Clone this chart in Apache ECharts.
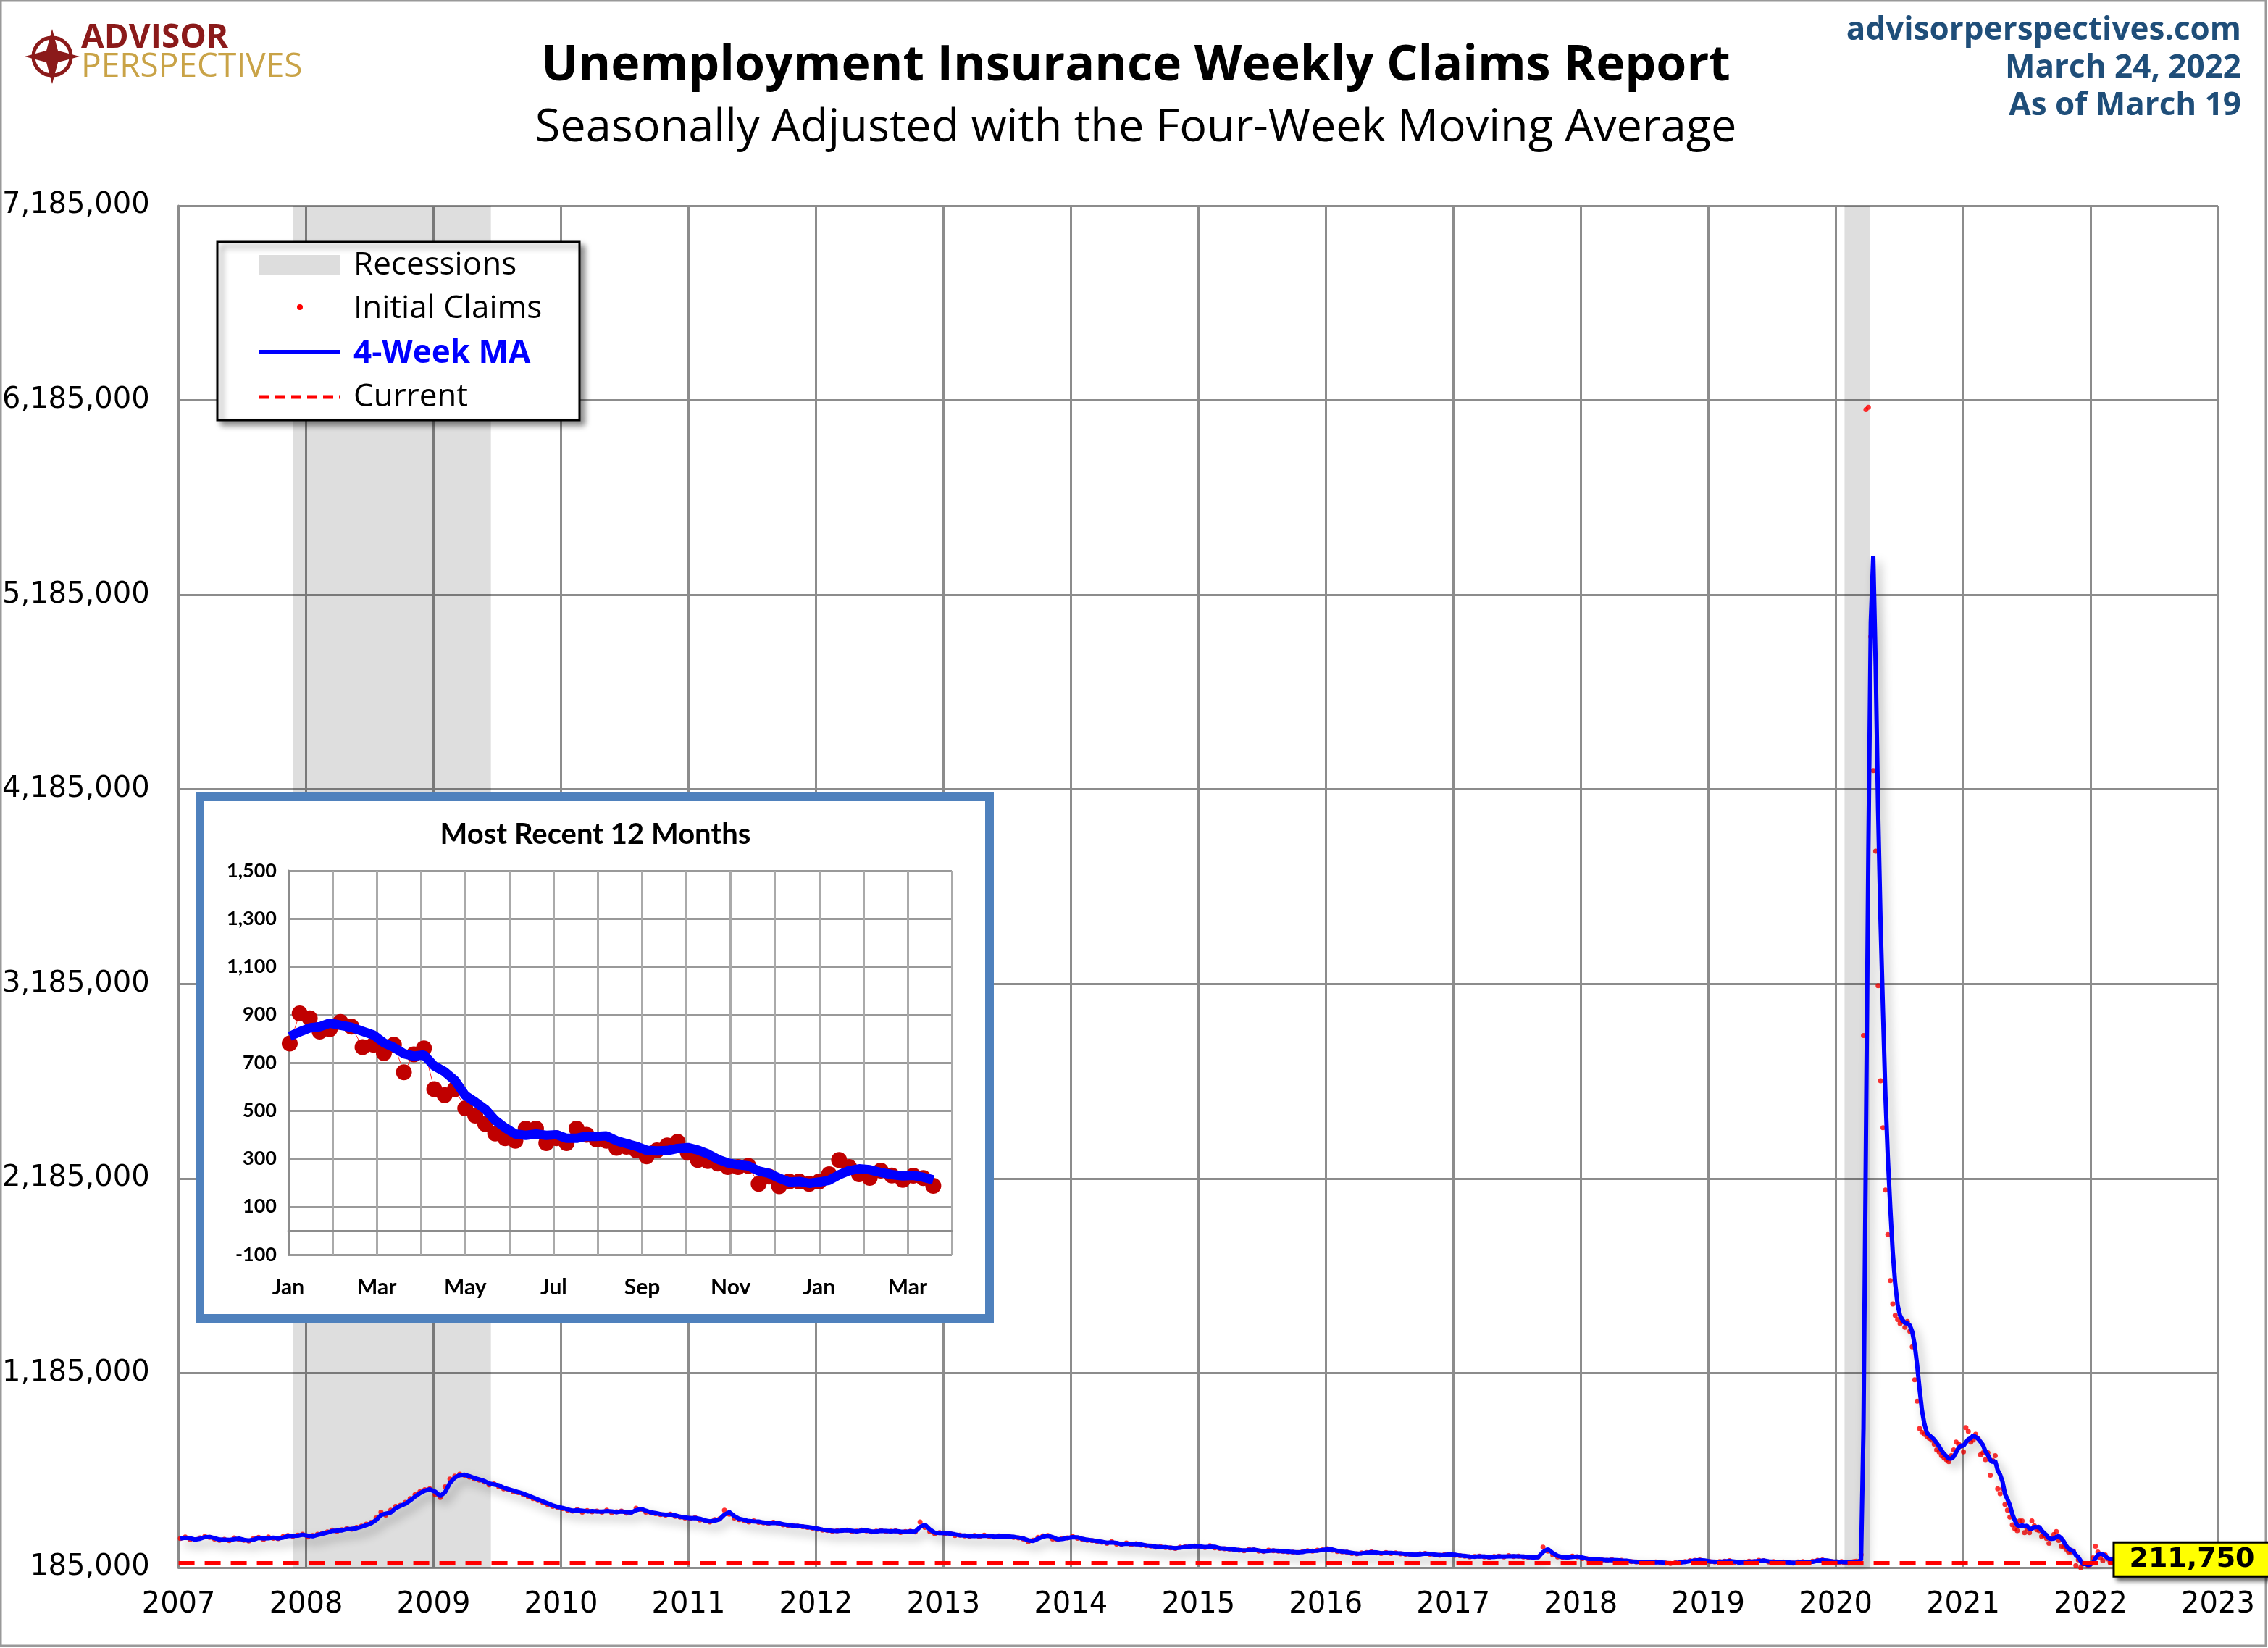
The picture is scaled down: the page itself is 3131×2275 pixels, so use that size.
<!DOCTYPE html>
<html><head><meta charset="utf-8">
<script src="https://cdn.jsdelivr.net/npm/echarts@6/dist/echarts.min.js"></script>
<style>html,body{margin:0;background:#fff}#c{width:3131px;height:2275px}</style>
</head><body><div id="c"></div>
<script>
"use strict";

// initial claims, thousands, roughly every two weeks (2007-2019)
const claims2007 = [335,342,330,328,338,345,340,332,326,330,324,338,330,326,322,336,340,330,342,336,334,344,350,346,352,356];
const claims2008 = [342,350,356,362,368,378,372,380,386,382,392,398,408,418,440,470,455,480,500,505,520,540,560,575,585,590];
const claims2009 = [560,545,600,640,655,665,660,650,640,635,625,610,615,600,590,585,575,570,560,550,540,530,520,510,500,495];
const claims2010 = [488,480,475,485,470,478,472,475,470,480,468,472,475,465,470,490,485,470,468,462,458,455,460,448,445,440];
const claims2011 = [438,442,430,425,420,432,435,480,460,440,432,428,420,425,418,415,412,418,410,405,402,400,398,395,392,388];
const claims2012 = [382,378,376,372,374,376,378,370,372,378,374,368,372,376,370,372,374,366,370,372,368,420,392,370,360,365];
const claims2013 = [358,362,350,352,348,346,350,344,352,346,342,348,344,346,340,338,332,318,326,340,348,350,332,328,336,338];
const claims2014 = [345,336,330,326,324,320,315,310,318,306,304,312,302,308,300,298,296,290,292,288,286,284,290,292,294,296];
const claims2015 = [292,288,298,286,284,282,280,276,274,272,278,276,270,268,274,272,270,268,266,264,262,268,272,270,274,276];
const claims2016 = [282,274,268,266,264,258,256,260,262,266,260,258,262,258,260,256,254,252,250,256,258,254,250,248,252,254];
const claims2017 = [248,246,244,240,242,244,240,238,242,244,240,246,242,244,240,238,236,240,290,270,250,240,238,236,244,240];
const claims2018 = [232,230,228,226,224,222,226,220,222,218,216,214,212,210,212,214,210,208,206,210,212,216,220,222,224,218];
const claims2019 = [216,214,216,218,220,212,210,214,218,216,222,220,214,216,212,214,210,208,214,216,212,218,222,224,218,216];
// weekly from 2020-01-04
const claims2020 = [214,212,216,210,212,208,214,216,218,215,251,2920,6137,6149,4970,4282,3867,3176,2687,2446,2126,1897,1660,1540,1482,1460,1440,1450,1420,1450,1400,1320,1150,1040,900,880,870,860,850,840,820,790,780,760,750,740,730,760,790,830,820,810];
// weekly from 2021-01-02 to 2022-03-19
const claims2021 = [780,905,885,830,840,870,850,765,775,740,775,660,735,760,590,565,590,510,480,445,405,385,375,425,425,365,385,365,425,400,380,375,345,350,335,310,335,355,370,325,295,290,280,265,265,270,195,225,185,205,205,195,205,235,295,265,235,220,250,230,212,229,219,187];

const recessions = [[2007.9, 2009.45], [2020.07, 2020.27]];
const currentValue = 211750;
const yearTicks = [2007, 2023];
const insetMonths = ["Jan","Feb","Mar","Apr","May","Jun","Jul","Aug","Sep","Oct","Nov","Dec","Jan","Feb","Mar","Apr"];

const DAY = 86400e3;
const pts = [];
const biweekly = [claims2007,claims2008,claims2009,claims2010,claims2011,claims2012,claims2013,claims2014,claims2015,claims2016,claims2017,claims2018,claims2019];
biweekly.forEach((arr, k) => arr.forEach((v, i) => pts.push({ t: Date.UTC(2007 + k, 0, 6 + 14 * i), v })));
claims2020.forEach((v, i) => pts.push({ t: Date.UTC(2020, 0, 4 + 7 * i), v }));
const start21 = pts.length;
claims2021.forEach((v, i) => pts.push({ t: Date.UTC(2021, 0, 2 + 7 * i), v }));

// four-week moving average
pts.forEach((p, k) => {
  let s = 0, n = 0;
  for (let j = k; j >= 0 && p.t - pts[j].t < 28 * DAY; j--) { s += pts[j].v; n++; }
  p.ma = s / n;
});

const decYear = (t) => {
  const y = new Date(t).getUTCFullYear();
  const a = Date.UTC(y, 0, 1), b = Date.UTC(y + 1, 0, 1);
  return y + (t - a) / (b - a);
};
const monthPos = (t) => {
  const d = new Date(t), y = d.getUTCFullYear(), m = d.getUTCMonth();
  const dim = new Date(Date.UTC(y, m + 1, 0)).getUTCDate();
  return (y - 2021) * 12 + m + (d.getUTCDate() - 1) / dim;
};

const fmt = (v) => Math.round(v).toLocaleString("en-US");
const GRIDC = "#8c8c8c";
const FONT = "DejaVu Sans";

const chart = echarts.init(document.getElementById("c"));
const inset = pts.slice(start21);

chart.setOption({
  backgroundColor: "#fff",
  animation: false,
  textStyle: { fontFamily: FONT },
  grid: [
    { left: 246, right: 69, top: 284, bottom: 111 },
    { left: 398, top: 1202, width: 916, height: 530, zlevel: 1 },
  ],
  xAxis: [
    { type: "value", min: yearTicks[0], max: yearTicks[1], interval: 1,
      axisLine: { lineStyle: { color: GRIDC, width: 3 } }, axisTick: { show: false },
      axisLabel: { color: "#000", fontSize: 40, margin: 32, formatter: (v) => String(v) },
      splitLine: { lineStyle: { color: GRIDC, width: 3 } } },
    { type: "value", gridIndex: 1, min: 0, max: 15, interval: 1, zlevel: 1,
      axisLine: { lineStyle: { color: GRIDC, width: 3 } }, axisTick: { show: false },
      axisLabel: { color: "#000", fontSize: 30, fontWeight: "bold", fontFamily: "Lato", margin: 30,
        formatter: (v) => (v % 2 === 0 && v < 15 ? insetMonths[v] : "") },
      splitLine: { lineStyle: { color: "#aaa", width: 3 } } },
  ],
  yAxis: [
    { type: "value", min: 185000, max: 7185000, interval: 1000000,
      axisLine: { show: true, lineStyle: { color: GRIDC, width: 3 } }, axisTick: { show: false },
      axisLabel: { color: "#000", fontSize: 40, margin: 40, formatter: fmt },
      splitLine: { lineStyle: { color: GRIDC, width: 3 } } },
    { type: "value", gridIndex: 1, min: -100, max: 1500, interval: 200, zlevel: 1,
      axisLine: { show: true, lineStyle: { color: GRIDC, width: 3 } }, axisTick: { show: false },
      axisLabel: { color: "#000", fontSize: 27, fontWeight: "bold", fontFamily: "Lato", margin: 16, formatter: fmt },
      splitLine: { lineStyle: { color: "#999", width: 3 } } },
  ],
  series: [
    { type: "line", data: [], silent: true,
      markArea: { silent: true, itemStyle: { color: "rgba(0,0,0,0.13)" },
        data: recessions.map(([a, b]) => [{ xAxis: a }, { xAxis: b }]) } },
    { type: "scatter", name: "Initial Claims", symbolSize: 7, itemStyle: { color: "#ff0000" },
      data: pts.map((p) => [decYear(p.t), p.v * 1000]), z: 3 },
    { type: "line", name: "4-Week MA", showSymbol: false, z: 4,
      lineStyle: { color: "#0000ff", width: 6, shadowColor: "rgba(0,0,0,0.3)", shadowBlur: 14, shadowOffsetX: 6, shadowOffsetY: 8 },
      data: pts.map((p) => [decYear(p.t), p.ma * 1000]),
      markLine: { silent: true, symbol: "none", lineStyle: { color: "#ff0000", type: [22, 14], width: 5 },
        label: { show: false }, data: [{ yAxis: currentValue }] } },
    { type: "line", xAxisIndex: 1, yAxisIndex: 1, zlevel: 1, z: 3, symbol: "circle", symbolSize: 22,
      itemStyle: { color: "#c00000" }, lineStyle: { color: "#ff3030", width: 1 },
      data: inset.map((p) => [monthPos(p.t), p.v]),
      markLine: { silent: true, symbol: "none", label: { show: false }, lineStyle: { color: "#999", width: 3, type: "solid" },
        data: [{ yAxis: 0 }] } },
    { type: "line", xAxisIndex: 1, yAxisIndex: 1, zlevel: 1, z: 4, showSymbol: false,
      lineStyle: { color: "#0000ff", width: 13 },
      data: inset.map((p) => [monthPos(p.t), p.ma]) },
  ],
  graphic: [
    { type: "rect", shape: { x: 1, y: 1, width: 3127, height: 2271 }, style: { fill: "none", stroke: "#999", lineWidth: 3 } },
    // logo
    { type: "circle", shape: { cx: 72, cy: 78, r: 26 }, style: { fill: "none", stroke: "#8b1a1a", lineWidth: 5 } },
    { type: "polygon", shape: { points: [[72, 40], [80, 70], [110, 78], [80, 86], [72, 116], [64, 86], [34, 78], [64, 70]] }, style: { fill: "#8b1a1a" } },
    { type: "text", left: 112, top: 30, style: { text: "ADVISOR", fill: "#8b1a1a", font: "bold 46px 'Open Sans'" } },
    { type: "text", left: 112, top: 70, style: { text: "PERSPECTIVES", fill: "#c9a347", font: "46px 'Open Sans'" } },
    // titles
    { type: "text", x: 1568, y: 58, style: { text: "Unemployment Insurance Weekly Claims Report", fill: "#000", font: "bold 68px 'Open Sans'", align: "center" } },
    { type: "text", x: 1568, y: 146, style: { text: "Seasonally Adjusted with the Four-Week Moving Average", fill: "#000", font: "63px 'Open Sans'", align: "center" } },
    { type: "text", x: 3094, y: 20, style: { text: "advisorperspectives.com", fill: "#1f4e79", font: "bold 44px 'Open Sans'", align: "right" } },
    { type: "text", x: 3094, y: 72, style: { text: "March 24, 2022", fill: "#1f4e79", font: "bold 44px 'Open Sans'", align: "right" } },
    { type: "text", x: 3094, y: 124, style: { text: "As of March 19", fill: "#1f4e79", font: "bold 44px 'Open Sans'", align: "right" } },
    // legend
    { type: "rect", zlevel: 1, shape: { x: 300, y: 334, width: 500, height: 246 },
      style: { fill: "#fff", stroke: "#000", lineWidth: 3, shadowColor: "rgba(0,0,0,0.45)", shadowBlur: 8, shadowOffsetX: 6, shadowOffsetY: 6 } },
    { type: "rect", zlevel: 1, shape: { x: 358, y: 352, width: 112, height: 28 }, style: { fill: "#dddddd" } },
    { type: "text", zlevel: 1, x: 488, y: 366, style: { text: "Recessions", fill: "#000", font: "44px 'Open Sans'", verticalAlign: "middle" } },
    { type: "circle", zlevel: 1, shape: { cx: 414, cy: 424, r: 4 }, style: { fill: "#ff0000" } },
    { type: "text", zlevel: 1, x: 488, y: 426, style: { text: "Initial Claims", fill: "#000", font: "44px 'Open Sans'", verticalAlign: "middle" } },
    { type: "line", zlevel: 1, shape: { x1: 358, y1: 486, x2: 470, y2: 486 }, style: { stroke: "#0000ff", lineWidth: 6 } },
    { type: "text", zlevel: 1, x: 488, y: 488, style: { text: "4-Week MA", fill: "#0000ff", font: "bold 44px 'Open Sans'", verticalAlign: "middle" } },
    { type: "line", zlevel: 1, shape: { x1: 358, y1: 548, x2: 470, y2: 548 }, style: { stroke: "#ff0000", lineWidth: 5, lineDash: [14, 8] } },
    { type: "text", zlevel: 1, x: 488, y: 548, style: { text: "Current", fill: "#000", font: "44px 'Open Sans'", verticalAlign: "middle" } },
    // inset frame
    { type: "rect", zlevel: 1, z: -10, shape: { x: 276, y: 1100, width: 1090, height: 720 },
      style: { fill: "#fff", stroke: "#4f81bd", lineWidth: 12 } },
    { type: "text", zlevel: 1, x: 822, y: 1152, style: { text: "Most Recent 12 Months", fill: "#000", font: "bold 40px Lato", align: "center", verticalAlign: "middle" } },
  ],
});

// current-value tag, placed from the axis scale
const [tx, ty] = chart.convertToPixel({ gridIndex: 0 }, [yearTicks[1], currentValue]);
chart.setOption({ graphic: [{ id: "curTag", type: "text", zlevel: 2, x: tx - 36, y: ty - 4,
  style: { text: fmt(currentValue), fill: "#000", font: "bold 38px 'DejaVu Sans'", align: "center", verticalAlign: "middle",
    backgroundColor: "#ffff00", borderColor: "#000", borderWidth: 3, padding: [4, 20, 2, 20],
    shadowColor: "rgba(0,0,0,0.5)", shadowBlur: 6, shadowOffsetX: 5, shadowOffsetY: 5 } }] });
</script>
</body></html>
